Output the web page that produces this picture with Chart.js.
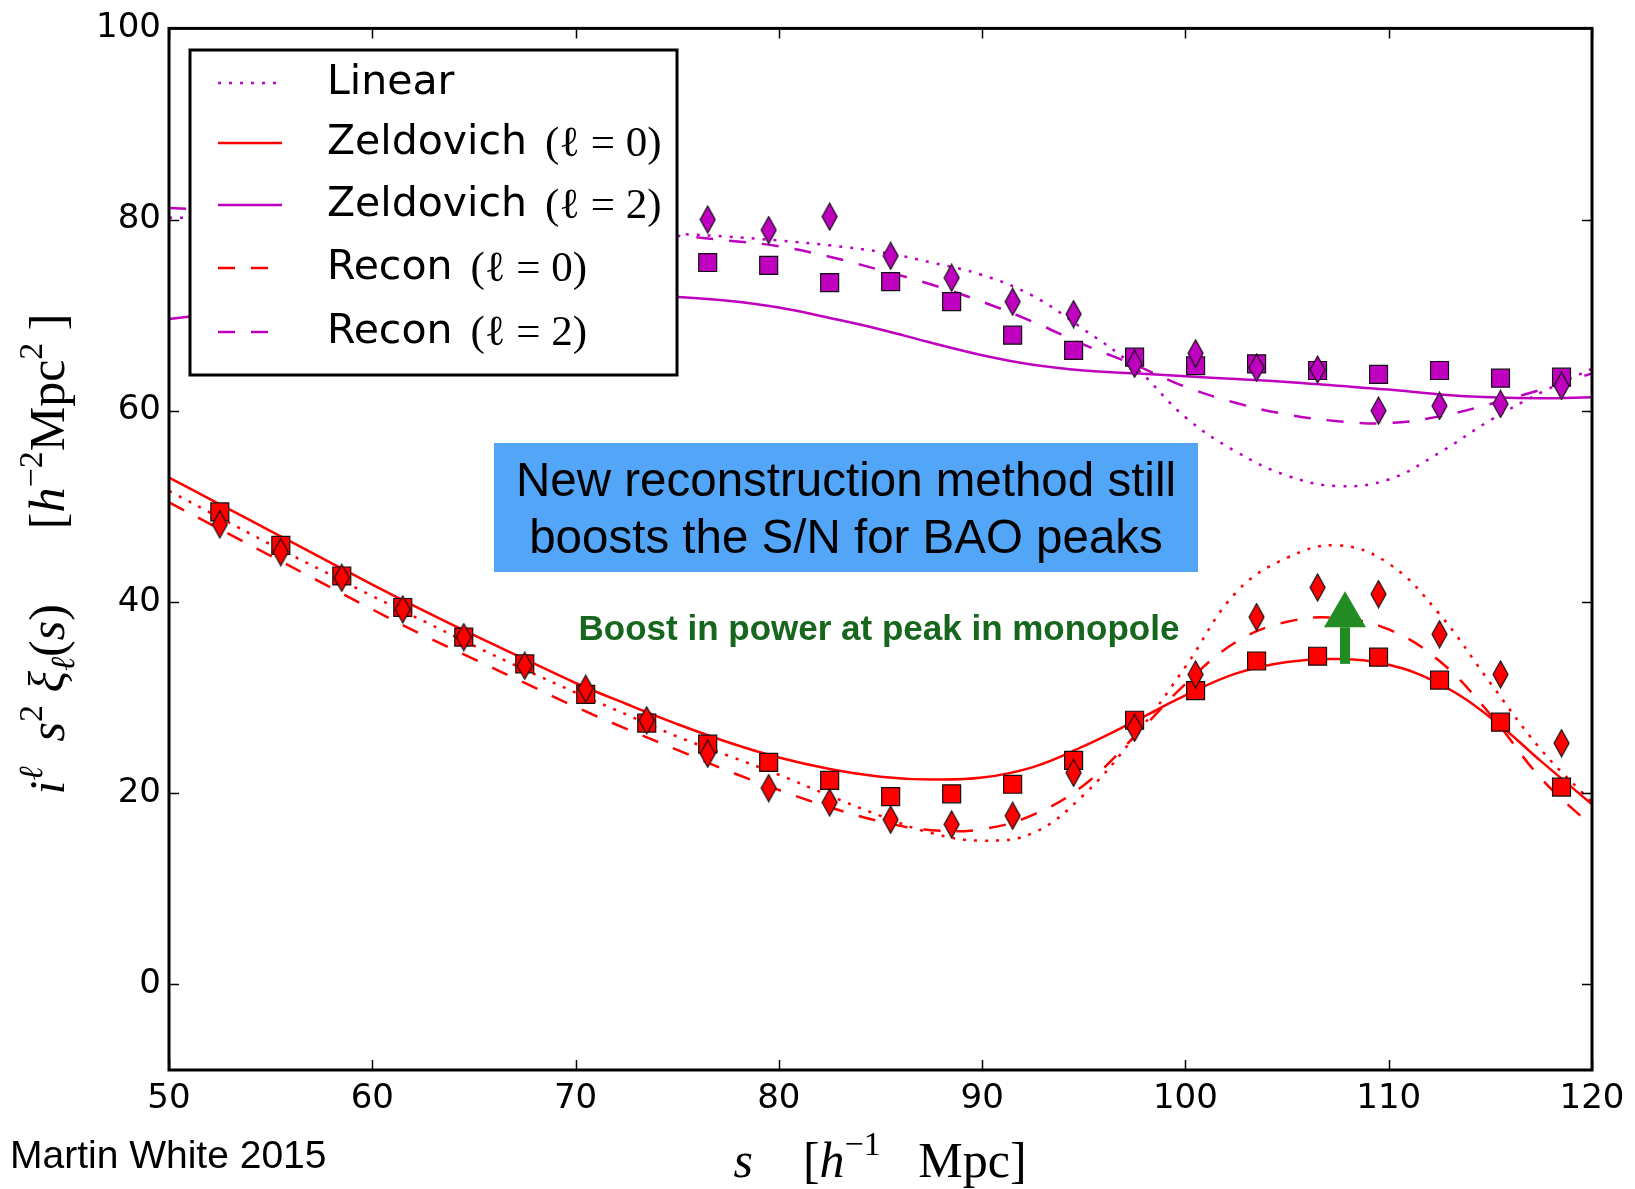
<!DOCTYPE html>
<html>
<head>
<meta charset="utf-8">
<title>BAO reconstruction multipoles</title>
<script src="https://cdn.jsdelivr.net/npm/chart.js@4.4.1/dist/chart.umd.min.js"></script>
<style>
  html, body { margin: 0; padding: 0; background: #fff; }
  #wrap { width: 1635px; height: 1189px; position: relative; }
</style>
</head>
<body>
<div id="wrap"><canvas id="chart" width="1635" height="1189"></canvas></div>
<script>
/* global Chart */

// simulation points, s in h^-1 Mpc
const sPoints = [52.5, 55.5, 58.5, 61.5, 64.5, 67.5, 70.5, 73.5, 76.5, 79.5, 82.5, 85.5,
  88.5, 91.5, 94.5, 97.5, 100.5, 103.5, 106.5, 109.5, 112.5, 115.5, 118.5]

// squares (standard recon) and diamonds (new recon), monopole
const sqMonopole = [49.4, 45.9, 42.7, 39.4, 36.3, 33.5, 30.3, 27.3, 25.1, 23.2, 21.3, 19.6,
  19.9, 20.9, 23.4, 27.6, 30.7, 33.8, 34.3, 34.2, 31.8, 27.4, 20.6]
const dmMonopole = [48.1, 45.2, 42.5, 39.2, 36.3, 33.3, 30.9, 27.6, 24.1, 20.5, 19.0, 17.2,
  16.7, 17.6, 22.1, 26.8, 32.4, 38.4, 41.5, 40.8, 36.6, 32.4, 25.2]

// quadrupole: the first points sit behind the legend box
const sqQuadrupole = [null, null, null, null, null, null, null, null, 75.5, 75.2, 73.4, 73.5,
  71.4, 67.9, 66.3, 65.6, 64.7, 64.9, 64.2, 63.8, 64.2, 63.4, 63.5]
const dmQuadrupole = [null, null, null, null, null, null, null, null, 80.0, 78.9, 80.3, 76.2,
  73.9, 71.4, 70.1, 64.9, 66.0, 64.5, 64.3, 60.0, 60.5, 60.7, 62.6]

// model curves, sampled every 2.5 h^-1 Mpc
const sCurve = [50, 52.5, 55, 57.5, 60, 62.5, 65, 67.5, 70, 72.5, 75, 77.5, 80, 82.5, 85,
  87.5, 90, 92.5, 95, 97.5, 100, 102.5, 105, 107.5, 110, 112.5, 115, 117.5, 120]

const linearMono = [51.6, 48.8, 46.0, 43.3, 40.6, 38.0, 35.4, 32.9, 30.5, 28.2, 25.9, 23.9,
  21.9, 19.7, 17.6, 15.8, 15.0, 15.8, 19.8, 25.9, 33.2, 41.0, 44.6, 45.9, 44.0, 38.7, 31.5, 24.5, 19.0]
const zeldoMono = [53.0, 50.2, 47.4, 44.6, 41.8, 39.1, 36.5, 34.0, 31.5, 29.3, 27.2, 25.3,
  23.7, 22.5, 21.7, 21.4, 21.6, 22.7, 24.9, 27.5, 30.2, 32.5, 33.7, 34.0, 33.4, 31.4, 27.9, 23.3, 18.8]
const reconMono = [50.4, 47.6, 44.8, 42.0, 39.2, 36.5, 34.0, 31.5, 29.0, 26.7, 24.5, 22.3,
  20.3, 18.5, 17.0, 16.1, 16.2, 17.7, 20.8, 25.9, 31.4, 35.8, 37.9, 38.3, 37.1, 33.8, 28.2, 21.5, 16.5]

const linearQuad = [80.2, 80.1, 80.0, 79.9, 79.7, 79.5, 79.3, 79.1, 78.9, 78.7, 78.5, 78.2,
  77.8, 77.3, 76.6, 75.5, 74.2, 72.0, 68.5, 64.6, 59.3, 55.7, 53.2, 52.1, 52.8, 55.6, 59.0, 61.9, 64.4]
const zeldoQuad = [69.6, 70.2, 70.8, 71.3, 71.7, 72.0, 72.2, 72.3, 72.3, 72.2, 71.9, 71.5,
  70.8, 69.7, 68.5, 67.1, 65.8, 64.8, 64.2, 63.9, 63.6, 63.3, 63.0, 62.6, 62.2, 61.7, 61.4, 61.3, 61.4]
const reconQuad = [81.2, 81.0, 80.7, 80.4, 80.1, 79.8, 79.5, 79.2, 78.9, 78.6, 78.3, 77.8,
  77.2, 76.1, 74.7, 73.2, 71.4, 69.3, 66.9, 64.8, 62.5, 60.8, 59.6, 58.9, 58.7, 59.4, 60.7, 62.2, 63.9]

const xTicks = [50, 60, 70, 80, 90, 100, 110, 120]
const yTicks = [0, 20, 40, 60, 80, 100]

// green arrow: s position and the value range it spans
const arrowAt = { s: 107.85, from: 33.5, to: 41.1 }

const RED = '#ff0000'
const MAGENTA = '#bf00bf'
const DOTTED = [3, 8]
const DASHED = [17, 16]
const SERIF = '"Liberation Serif", "DejaVu Serif", serif'
const SANS = '"Liberation Sans", Arial, sans-serif'

const legendItems = [
  { label: 'Linear', math: '', color: MAGENTA, dash: DOTTED },
  { label: 'Zeldovich', math: '(ℓ = 0)', color: RED, dash: [] },
  { label: 'Zeldovich', math: '(ℓ = 2)', color: MAGENTA, dash: [] },
  { label: 'Recon', math: '(ℓ = 0)', color: RED, dash: DASHED },
  { label: 'Recon', math: '(ℓ = 2)', color: MAGENTA, dash: DASHED }
]

function pairs (xs, ys) {
  return xs.map((x, i) => ({ x, y: ys[i] }))
}

function makeDiamond (fill) {
  const c = document.createElement('canvas')
  c.width = 17
  c.height = 29
  const g = c.getContext('2d')
  g.beginPath()
  g.moveTo(8.5, 1)
  g.lineTo(16, 14.5)
  g.lineTo(8.5, 28)
  g.lineTo(1, 14.5)
  g.closePath()
  g.fillStyle = fill
  g.fill()
  g.lineWidth = 1.2
  g.strokeStyle = '#111'
  g.stroke()
  return c
}

function curve (data, color, dash) {
  return {
    data: pairs(sCurve, data),
    borderColor: color,
    borderWidth: 2.5,
    borderDash: dash,
    pointRadius: 0,
    tension: 0.4,
    fill: false,
    order: 2
  }
}

function squares (data, color) {
  return {
    data: pairs(sPoints, data),
    showLine: false,
    pointStyle: 'rect',
    pointRadius: 12.7,
    pointBackgroundColor: color,
    pointBorderColor: '#111',
    pointBorderWidth: 1.2,
    order: 1
  }
}

function diamonds (data, color) {
  return {
    data: pairs(sPoints, data),
    showLine: false,
    pointStyle: makeDiamond(color),
    pointRadius: 14,
    order: 0
  }
}

// text made of runs in different fonts (for the math labels)
function drawRuns (ctx, runs, x, y) {
  let width = 0
  runs.forEach(r => { ctx.font = r.font; width += ctx.measureText(r.t).width })
  let cx = x - width / 2
  runs.forEach(r => {
    ctx.font = r.font
    ctx.fillText(r.t, cx, y + (r.dy || 0))
    cx += ctx.measureText(r.t).width
  })
}

const big = `50px ${SERIF}`
const bigIt = `italic 50px ${SERIF}`
const small = `34px ${SERIF}`
const smallIt = `italic 34px ${SERIF}`

const yTitleRuns = [
  { t: 'i', font: bigIt }, { t: 'ℓ', font: smallIt, dy: -22 }, { t: '  ', font: big },
  { t: 's', font: bigIt }, { t: '2', font: small, dy: -22 }, { t: ' ', font: big },
  { t: 'ξ', font: bigIt }, { t: 'ℓ', font: smallIt, dy: 10 }, { t: '(', font: big },
  { t: 's', font: bigIt }, { t: ')', font: big }, { t: '      [', font: big },
  { t: 'h', font: bigIt }, { t: '−2', font: small, dy: -22 }, { t: 'Mpc', font: big },
  { t: '2', font: small, dy: -22 }, { t: ' ]', font: big }
]

const xTitleRuns = [
  { t: 's', font: bigIt }, { t: '    [', font: big }, { t: 'h', font: bigIt },
  { t: '−1', font: small, dy: -22 }, { t: '   Mpc]', font: big }
]

const decorPlugin = {
  id: 'decor',
  afterDatasetsDraw (chart) {
    const { ctx, chartArea: a, scales } = chart
    const sx = scales.x
    const sy = scales.y
    ctx.save()

    // frame with inward ticks on all sides
    ctx.strokeStyle = '#000'
    ctx.lineWidth = 1.5
    ctx.beginPath()
    xTicks.forEach(v => {
      const px = Math.round(sx.getPixelForValue(v)) + 0.5
      ctx.moveTo(px, a.bottom); ctx.lineTo(px, a.bottom - 10)
      ctx.moveTo(px, a.top); ctx.lineTo(px, a.top + 10)
    })
    yTicks.forEach(v => {
      const py = Math.round(sy.getPixelForValue(v)) + 0.5
      ctx.moveTo(a.left, py); ctx.lineTo(a.left + 10, py)
      ctx.moveTo(a.right, py); ctx.lineTo(a.right - 10, py)
    })
    ctx.stroke()
    ctx.lineWidth = 3
    ctx.strokeRect(a.left, a.top, a.right - a.left, a.bottom - a.top)

    // legend box
    ctx.fillStyle = '#fff'
    ctx.fillRect(190, 50, 487, 325)
    ctx.strokeRect(190, 50, 487, 325)
    const rowY = [83, 143, 205, 268, 332]
    ctx.textBaseline = 'middle'
    ctx.textAlign = 'left'
    legendItems.forEach((item, i) => {
      const y = rowY[i]
      ctx.strokeStyle = item.color
      ctx.lineWidth = 2.5
      ctx.setLineDash(item.dash)
      ctx.beginPath()
      ctx.moveTo(218, y)
      ctx.lineTo(282, y)
      ctx.stroke()
      ctx.setLineDash([])
      ctx.fillStyle = '#000'
      ctx.font = '41px "DejaVu Sans"'
      ctx.fillText(item.label, 327, y)
      if (item.math) {
        const w = ctx.measureText(item.label + ' ').width
        ctx.font = `43px ${SERIF}`
        ctx.fillText(item.math, 327 + w + 5, y + 2)
      }
    })

    // blue note
    ctx.fillStyle = '#53a6f7'
    ctx.fillRect(494, 443, 704, 129)
    ctx.fillStyle = '#000'
    ctx.textAlign = 'center'
    ctx.font = `47.5px ${SANS}`
    ctx.fillText('New reconstruction method still', 846, 483)
    ctx.fillText('boosts the S/N for BAO peaks', 846, 540)

    // green note and arrow
    ctx.fillStyle = '#17661d'
    ctx.font = `bold 35px ${SANS}`
    ctx.fillText('Boost in power at peak in monopole', 879, 630)

    const ax = sx.getPixelForValue(arrowAt.s)
    const y0 = sy.getPixelForValue(arrowAt.from)
    const y1 = sy.getPixelForValue(arrowAt.to)
    const headBase = y1 + 36
    ctx.fillStyle = '#228b22'
    ctx.fillRect(ax - 5, headBase, 10, y0 - headBase)
    ctx.beginPath()
    ctx.moveTo(ax - 21, headBase)
    ctx.lineTo(ax + 21, headBase)
    ctx.lineTo(ax, y1)
    ctx.closePath()
    ctx.fill()

    // axis titles
    ctx.fillStyle = '#000'
    ctx.textAlign = 'left'
    ctx.textBaseline = 'alphabetic'
    drawRuns(ctx, xTitleRuns, 880, 1177)

    ctx.save()
    ctx.translate(64, 554)
    ctx.rotate(-Math.PI / 2)
    drawRuns(ctx, yTitleRuns, 0, 0)
    ctx.restore()

    ctx.textBaseline = 'middle'
    ctx.font = `39px ${SANS}`
    ctx.fillText('Martin White 2015', 10, 1157)

    ctx.restore()
  }
}

Chart.defaults.font.family = '"DejaVu Sans"'
Chart.defaults.color = '#000'

const chart = new Chart(document.getElementById('chart'), {
  type: 'line',
  data: {
    datasets: [
      diamonds(dmMonopole, RED),
      diamonds(dmQuadrupole, MAGENTA),
      squares(sqMonopole, RED),
      squares(sqQuadrupole, MAGENTA),
      curve(linearMono, RED, DOTTED),
      curve(zeldoMono, RED, []),
      curve(reconMono, RED, DASHED),
      curve(linearQuad, MAGENTA, DOTTED),
      curve(zeldoQuad, MAGENTA, []),
      curve(reconQuad, MAGENTA, DASHED)
    ]
  },
  options: {
    responsive: false,
    animation: false,
    devicePixelRatio: 1,
    layout: { padding: { left: 0, top: 28, right: 43, bottom: 0 } },
    plugins: {
      legend: { display: false },
      tooltip: { enabled: false }
    },
    scales: {
      x: {
        type: 'linear',
        min: 50,
        max: 120,
        afterBuildTicks: axis => { axis.ticks = xTicks.map(value => ({ value })) },
        afterFit: axis => { axis.height = 119 },
        grid: { display: false, drawTicks: false },
        border: { display: false },
        ticks: { font: { size: 34 }, padding: 9, maxRotation: 0, autoSkip: false }
      },
      y: {
        type: 'linear',
        min: -9,
        max: 100,
        afterBuildTicks: axis => { axis.ticks = yTicks.map(value => ({ value })) },
        afterFit: axis => { axis.width = 169 },
        grid: { display: false, drawTicks: false },
        border: { display: false },
        ticks: { font: { size: 34 }, padding: 8, autoSkip: false }
      }
    }
  },
  plugins: [decorPlugin]
})

console.log(chart.chartArea)
</script>
</body>
</html>
